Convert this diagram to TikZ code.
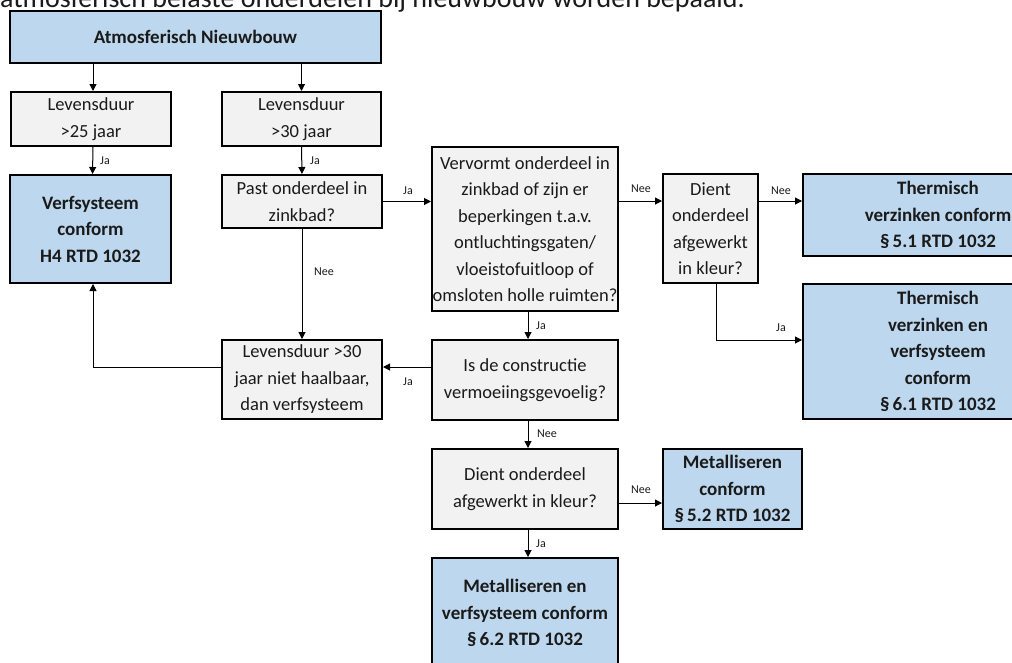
\documentclass[tikz,border=0pt]{standalone}
\usepackage{fontspec}
\setmainfont{Carlito}
\usetikzlibrary{arrows.meta,calc}
\definecolor{boxblue}{HTML}{BDD7EE}
\definecolor{boxgrey}{HTML}{F2F2F2}
\definecolor{txt}{HTML}{1A1A1A}
\begin{document}
\begin{tikzpicture}[x=1pt,y=-1pt,
  box/.style={draw=black,line width=2pt,align=center,inner sep=0pt,text=txt},
  greybox/.style={box,fill=boxgrey,font=\fontsize{18.5}{26.5}\selectfont},
  bluebox/.style={box,fill=boxblue,font=\fontsize{19}{26.5}\selectfont\bfseries},
  arr/.style={-{Triangle[length=7pt,width=7pt]},line width=1pt},
  lab/.style={font=\fontsize{12}{12}\selectfont,inner sep=0pt,text=txt}]
\useasboundingbox (0,0) rectangle (1012,662);
\clip (0,0) rectangle (1012,662);
\fill[white] (0,0) rectangle (1012,662);
\node[anchor=base west,font=\fontsize{28}{28}\selectfont,inner sep=0pt,text=txt] (hdr) at (0,7) {atmosferisch belaste onderdelen bij nieuwbouw worden bepaald.};
% boxes
\node[bluebox,minimum width=371pt,minimum height=52pt] (A) at (195.5,37) {Atmosferisch Nieuwbouw};
\node[greybox,minimum width=160pt,minimum height=54pt] (L25) at (91,119) {Levensduur\\>25 jaar};
\node[greybox,minimum width=159pt,minimum height=54pt] (L30) at (301.5,119) {Levensduur\\>30 jaar};
\node[bluebox,minimum width=161pt,minimum height=108pt] (V) at (90.5,229) {Verfsysteem\\conform\\H4 RTD 1032};
\node[greybox,minimum width=160pt,minimum height=53pt] (P) at (302,201.5) {Past onderdeel in\\zinkbad?};
\node[greybox,minimum width=160pt,minimum height=79pt] (N) at (302,379.5) {Levensduur >30\\jaar niet haalbaar,\\dan verfsysteem};
\node[greybox,minimum width=186pt,minimum height=164pt] (Vv) at (525,229) {Vervormt onderdeel in\\zinkbad of zijn er\\beperkingen t.a.v.\\ontluchtingsgaten/\\vloeistofuitloop of\\omsloten holle ruimten?};
\node[greybox,minimum width=186pt,minimum height=80pt] (C) at (525,380) {Is de constructie\\vermoeiingsgevoelig?};
\node[greybox,minimum width=95pt,minimum height=109pt] (D1) at (710.5,228.5) {Dient\\onderdeel\\afgewerkt\\in kleur?};
\node[bluebox,minimum width=270pt,minimum height=82pt] (T1) at (938,215) {Thermisch\\verzinken conform\\\S\,5.1 RTD 1032};
\node[bluebox,minimum width=270pt,minimum height=135pt] (T2) at (938,351.5) {Thermisch\\verzinken en\\verfsysteem\\conform\\\S\,6.1 RTD 1032};
\node[greybox,minimum width=186pt,minimum height=80pt] (D2) at (525,489) {Dient onderdeel\\afgewerkt in kleur?};
\node[bluebox,minimum width=139pt,minimum height=80pt] (M1) at (732.5,489) {Metalliseren\\conform\\\S\,5.2 RTD 1032};
\node[bluebox,minimum width=186pt,minimum height=110pt] (M2) at (525,613) {Metalliseren en\\verfsysteem conform\\\S\,6.2 RTD 1032};
% connectors
\draw[arr] ([xshift=2pt]A.south -| L25.north) -- ([xshift=2pt]L25.north);
\draw[arr] (A.south -| L30.north) -- (L30.north);
\draw[arr] ([xshift=2pt]L25.south) -- ([xshift=2pt]V.north);
\draw[arr] (L30.south) -- (P.north);
\draw[arr] (P.east) -- (P.east -| Vv.west);
\draw[arr] (P.south) -- (N.north);
\draw[arr] ([xshift=3pt]Vv.south) -- ([xshift=3pt]C.north);
\coordinate (cn) at ([yshift=13pt]C.west);
\draw[arr] (cn) -- (cn -| N.east);
\coordinate (nv) at ([yshift=12.5pt]N.west);
\draw[arr] (nv) -| ([xshift=2.5pt]V.south);
\coordinate (vd) at ([yshift=28pt]Vv.east);
\draw[arr] (vd) -- (vd -| D1.west);
\coordinate (dt) at ([yshift=27.5pt]D1.east);
\draw[arr] (dt) -- (dt -| T1.west);
\draw[arr] ([xshift=5.5pt]D1.south) |- ([yshift=11.5pt]T2.west);
\draw[arr] ([xshift=3pt]C.south) -- ([xshift=3pt]D2.north);
\coordinate (dm) at ([yshift=-14pt]D2.east);
\draw[arr] (dm) -- (dm -| M1.west);
\draw[arr] ([xshift=3pt]D2.south) -- ([xshift=3pt]M2.north);
% labels
\node[lab] (j1) at (105,161) {Ja};
\node[lab] (j2) at (315,161) {Ja};
\node[lab] (j3) at (408,191) {Ja};
\node[lab] (n1) at (324,272) {Nee};
\node[lab] (j4) at (408,382) {Ja};
\node[lab] (n2) at (641,189) {Nee};
\node[lab] (n3) at (781,191) {Nee};
\node[lab] (j5) at (781,328) {Ja};
\node[lab] (j6) at (541,326) {Ja};
\node[lab] (n4) at (547,434) {Nee};
\node[lab] (n5) at (641,490) {Nee};
\node[lab] (j7) at (541,544) {Ja};
\end{tikzpicture}
\end{document}
